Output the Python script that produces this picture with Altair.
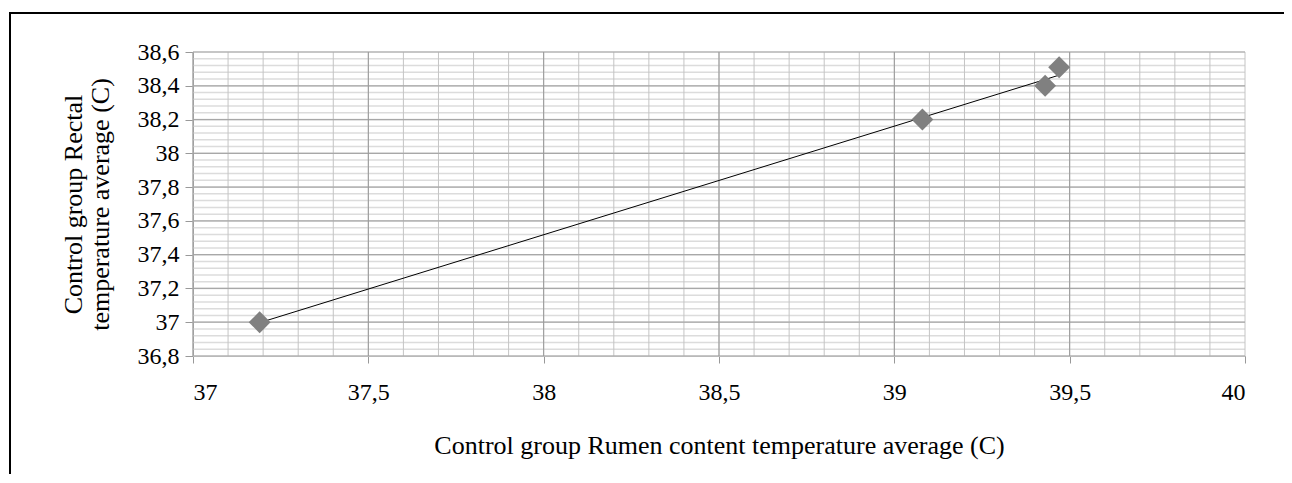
import altair as alt
import pandas as pd
import numpy as np

# Data
rumen_temp = [37.19, 39.08, 39.43, 39.47]
rectal_temp = [37.0, 38.2, 38.4, 38.51]

x_major = [37, 37.5, 38, 38.5, 39, 39.5, 40]
y_major = [36.8, 37.0, 37.2, 37.4, 37.6, 37.8, 38.0, 38.2, 38.4, 38.6]
x_minor = [round(v, 2) for v in np.arange(37.0, 40.001, 0.1)]
y_minor = [round(v, 2) for v in np.arange(36.8, 38.601, 0.04)]

FONT = "Liberation Serif"

df = pd.DataFrame({"x": rumen_temp, "y": rectal_temp})
xs = alt.Scale(domain=[37, 40], nice=False, zero=False)
ys = alt.Scale(domain=[36.8, 38.6], nice=False, zero=False)

label_expr = "replace(format(datum.value, '~g'), '.', ',')"

x_title = "Control group Rumen content temperature average (C)"
y_title = ["Control group Rectal", "temperature average (C)"]
common = dict(labelFont=FONT, titleFont=FONT, labelFontSize=24, titleFontSize=26,
              labelColor="black", titleColor="black", titleFontWeight="normal",
              grid=False, labelExpr=label_expr, tickColor="#999999")
x_axis = alt.Axis(values=x_major, tickSize=7, domainColor="#999999",
                  labelPadding=17, titlePadding=28, **common)
y_axis = alt.Axis(values=y_major, tickSize=8, domainColor="#888888",
                  labelPadding=6, titlePadding=24, titleLineHeight=27, **common)


def X(field):
    return alt.X(field, scale=xs, title=x_title, axis=x_axis)


def Y(field):
    return alt.Y(field, scale=ys, title=y_title, axis=y_axis)


grid_y_minor = alt.Chart(pd.DataFrame({"v": y_minor})).mark_rule(
    color="#dcdcdc", strokeWidth=1.5).encode(y=Y("v:Q"))
grid_x_minor = alt.Chart(pd.DataFrame({"v": x_minor})).mark_rule(
    color="#c4c4c4", strokeWidth=1).encode(x=X("v:Q"))
grid_y_major = alt.Chart(pd.DataFrame({"v": y_major})).mark_rule(
    color="#a8a8a8", strokeWidth=1.2).encode(y=Y("v:Q"))
grid_x_major = alt.Chart(pd.DataFrame({"v": x_major[:-1]})).mark_rule(
    color="#999999", strokeWidth=1).encode(x=X("v:Q"))

base = alt.Chart(df)

trend = base.transform_regression("x", "y").mark_line(
    color="black", strokeWidth=1).encode(x=X("x:Q"), y=Y("y:Q"))

points = base.mark_point(shape="diamond", filled=True, color="#808080",
                         opacity=1, size=480).encode(x=X("x:Q"), y=Y("y:Q"))

border = alt.Chart(alt.Data(values=[{}])).mark_rect(
    fill=None, stroke="black", strokeWidth=2).encode(
    x=alt.value(-183), x2=alt.value(1200), y=alt.value(-39), y2=alt.value(600))

chart = alt.layer(
    grid_y_minor, grid_x_minor, grid_y_major, grid_x_major, trend, points, border
).resolve_scale(x="shared", y="shared").properties(
    width=1052, height=304,
    autosize=alt.AutoSizeParams(type="none"),
    padding={"left": 185, "top": 44, "right": 39, "bottom": 118},
).configure(font=FONT).configure_view(stroke=None).configure_axis(
    labelFont=FONT, titleFont=FONT)

chart.save("out.html", embed_options={"renderer": "svg", "actions": False})
